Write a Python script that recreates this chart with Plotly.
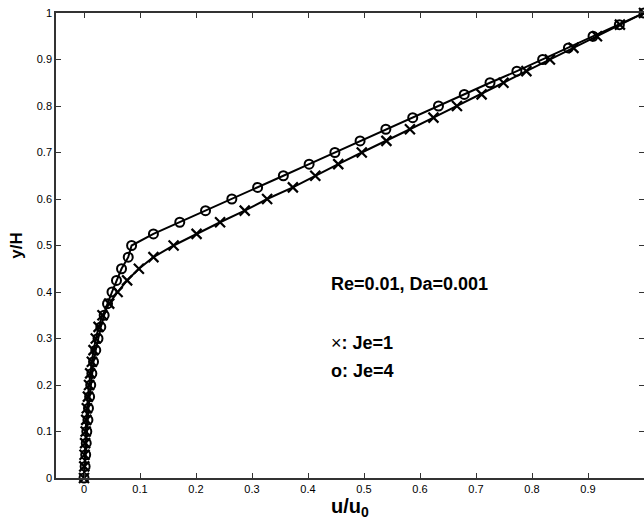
import plotly.graph_objects as go

# y/H sample positions (markers every 0.025)
y_vals = [round(i * 0.025, 3) for i in range(41)]

# u/u0 for Je=1 (x markers)
u_je1 = [0.0, 0.0005, 0.001, 0.002, 0.003, 0.004, 0.005, 0.007, 0.009, 0.011,
         0.014, 0.017, 0.021, 0.026, 0.033, 0.045, 0.060, 0.077, 0.098, 0.124,
         0.160, 0.201, 0.243, 0.287, 0.327, 0.373, 0.413, 0.454, 0.496, 0.540,
         0.582, 0.624, 0.666, 0.710, 0.749, 0.790, 0.832, 0.874, 0.916, 0.957, 1.0]

# u/u0 for Je=4 (o markers)
u_je4 = [0.0, 0.002, 0.003, 0.004, 0.005, 0.007, 0.008, 0.010, 0.012, 0.014,
         0.017, 0.021, 0.025, 0.030, 0.036, 0.042, 0.050, 0.058, 0.067, 0.079,
         0.085, 0.124, 0.171, 0.217, 0.264, 0.310, 0.356, 0.402, 0.448, 0.493,
         0.539, 0.587, 0.633, 0.679, 0.725, 0.773, 0.819, 0.865, 0.909, 0.956, 1.0]

tick_vals = [round(i * 0.1, 1) for i in range(11)]
tick_text = ["0", "0.1", "0.2", "0.3", "0.4", "0.5", "0.6", "0.7", "0.8", "0.9", "1"]

FONT = "Liberation Sans, Arial, sans-serif"

fig = go.Figure()
fig.add_trace(go.Scatter(
    x=u_je1, y=y_vals, mode="lines+markers", name="Je=1",
    line=dict(color="black", width=2),
    marker=dict(symbol="x-thin", size=10, color="black",
                line=dict(color="black", width=2.2)),
    cliponaxis=False,
))
fig.add_trace(go.Scatter(
    x=u_je4, y=y_vals, mode="lines+markers", name="Je=4",
    line=dict(color="black", width=2),
    marker=dict(symbol="circle-open", size=9, color="black",
                line=dict(color="black", width=2)),
    cliponaxis=False,
))

axis_common = dict(
    showline=True, linecolor="#333333", linewidth=1.5, mirror="ticks",
    ticks="inside", ticklen=5, tickwidth=1.2, tickcolor="#333333",
    showgrid=False, zeroline=False, automargin=False,
    tickfont=dict(family=FONT, size=11, color="black"),
    tickvals=tick_vals, ticktext=tick_text,
)

fig.update_xaxes(range=[-0.05, 1.0], **axis_common,
                 title=dict(text="<b>u/u<sub>0</sub></b>", standoff=4,
                            font=dict(family=FONT, size=20, color="black")))
fig.update_yaxes(range=[0, 1], **axis_common,
                 title=dict(text="<b>y/H</b>", standoff=10,
                            font=dict(family=FONT, size=17, color="black")))

# plot area (in screen pixels): left 56, right 644, top 13, bottom 478
PX_L, PX_W, PX_B, PX_H = 56, 588, 478, 465
ann_font = dict(family=FONT, size=18, color="black")
fig.add_annotation(x=(329 - PX_L) / PX_W, y=(PX_B - 284) / PX_H, xref="paper", yref="paper",
                   text="<b>Re=0.01, Da=0.001</b>", showarrow=False,
                   xanchor="left", yanchor="middle", font=ann_font)
fig.add_annotation(x=(329 - PX_L) / PX_W, y=(PX_B - 343) / PX_H, xref="paper", yref="paper",
                   text="×<b>: Je=1</b>", showarrow=False, xanchor="left", yanchor="middle", font=ann_font)
fig.add_annotation(x=(329 - PX_L) / PX_W, y=(PX_B - 371) / PX_H, xref="paper", yref="paper",
                   text="<b>o: Je=4</b>", showarrow=False, xanchor="left", yanchor="middle", font=ann_font)

fig.update_layout(
    width=644, height=531,
    margin=dict(l=56, r=0, t=13, b=53),
    paper_bgcolor="white", plot_bgcolor="white",
    showlegend=False,
)

# remove the default page margin so the figure fills the window exactly
fig.write_html(
    "out.html",
    config={"displayModeBar": False},
    post_script="document.body.style.margin='0';document.body.style.overflow='hidden';",
)
